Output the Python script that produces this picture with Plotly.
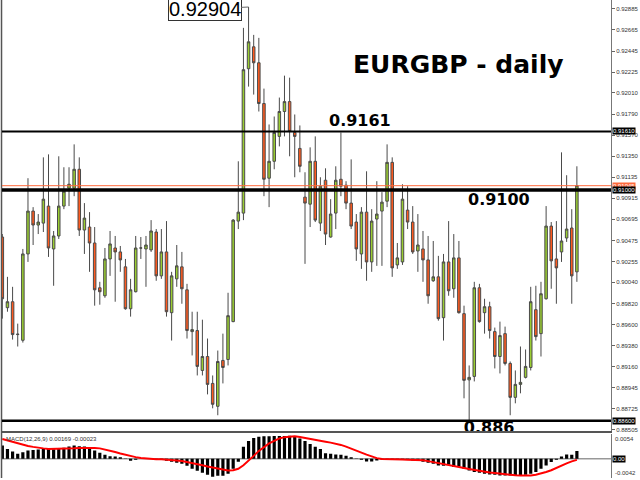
import plotly.graph_objects as go

bar_index = list(range(113))

opens = [
    0.90511, 0.89776, 0.89838, 0.89496, 0.89437, 0.90335, 0.90781, 0.90636, 0.90656, 0.90833,
    0.90387, 0.90522, 0.90833, 0.91019, 0.91019, 0.91216, 0.90584, 0.90615, 0.90449, 0.89983,
    0.89900, 0.90283, 0.90397, 0.90356, 0.90201, 0.89765, 0.89942, 0.90397, 0.90387, 0.90377,
    0.90563, 0.90107, 0.90356, 0.89724, 0.90076, 0.90201, 0.89962, 0.89527, 0.89538, 0.89123,
    0.89268, 0.88988, 0.88750, 0.89227, 0.89237, 0.89631, 0.90677, 0.90760, 0.92262, 0.92490,
    0.92324, 0.91900, 0.91123, 0.91299, 0.91558, 0.91817, 0.91920, 0.91599, 0.91433, 0.90926,
    0.90853, 0.91299, 0.90656, 0.91102, 0.90511, 0.90760, 0.91112, 0.91050, 0.90864, 0.90667,
    0.90335, 0.90770, 0.90252, 0.90698, 0.90781, 0.90884, 0.91288, 0.90221, 0.90252, 0.90791,
    0.90667, 0.90366, 0.90387, 0.90273, 0.90056, 0.90097, 0.89672, 0.90252, 0.89973, 0.90294,
    0.89714, 0.89025, 0.89061, 0.89983, 0.89724, 0.89786, 0.89527, 0.89268, 0.89506, 0.89196,
    0.88843, 0.88978, 0.89051, 0.89154, 0.89755, 0.89506, 0.89869, 0.90625, 0.90283, 0.90356,
    0.90501, 0.90605, 0.90149]

highs = [
    0.90542, 0.90097, 0.89993, 0.89610, 0.90387, 0.91123, 0.90822, 0.90750, 0.91340, 0.91371,
    0.90574, 0.91351, 0.91237, 0.91237, 0.91475, 0.91340, 0.90864, 0.90770, 0.90615, 0.90045,
    0.90397, 0.90574, 0.90522, 0.90418, 0.90283, 0.90076, 0.90522, 0.90511, 0.90522, 0.90687,
    0.90594, 0.90594, 0.90677, 0.90149, 0.90428, 0.90356, 0.90024, 0.89734, 0.89734, 0.89651,
    0.89455, 0.89071, 0.89330, 0.89506, 0.89931, 0.90698, 0.91299, 0.92687, 0.92904, 0.92614,
    0.92583, 0.92055, 0.91682, 0.91765, 0.91962, 0.92190, 0.92169, 0.91786, 0.91672, 0.91185,
    0.91444, 0.91558, 0.91133, 0.91226, 0.90905, 0.91247, 0.91599, 0.91092, 0.91319, 0.90750,
    0.90822, 0.91195, 0.90801, 0.91092, 0.90978, 0.91475, 0.91340, 0.90449, 0.91060, 0.91040,
    0.90833, 0.90750, 0.90574, 0.90522, 0.90470, 0.90315, 0.90335, 0.90677, 0.90542, 0.90470,
    0.89797, 0.89175, 0.90045, 0.90024, 0.89869, 0.89838, 0.89569, 0.89631, 0.89579, 0.89216,
    0.89123, 0.89372, 0.89341, 0.89993, 0.90004, 0.90045, 0.90833, 0.90667, 0.90677, 0.91392,
    0.91154, 0.90801, 0.91247]

lows = [
    0.89662, 0.89734, 0.89444, 0.89372, 0.89413, 0.90252, 0.90428, 0.90542, 0.90563, 0.90304,
    0.90004, 0.90491, 0.90801, 0.90833, 0.90936, 0.90522, 0.90335, 0.90149, 0.89797, 0.89807,
    0.89879, 0.90107, 0.89838, 0.90149, 0.89755, 0.89683, 0.89935, 0.90283, 0.89993, 0.90356,
    0.90056, 0.90076, 0.89683, 0.89434, 0.89993, 0.89817, 0.89455, 0.89279, 0.89071, 0.89071,
    0.88874, 0.88729, 0.88657, 0.88988, 0.89175, 0.89625, 0.90594, 0.90687, 0.92076, 0.91993,
    0.91817, 0.90936, 0.90822, 0.91216, 0.91454, 0.91558, 0.91351, 0.91133, 0.91185, 0.90232,
    0.90615, 0.90667, 0.90574, 0.90428, 0.90505, 0.90594, 0.90936, 0.90801, 0.90594, 0.90263,
    0.90180, 0.90056, 0.90149, 0.90211, 0.90211, 0.90822, 0.90097, 0.90180, 0.90221, 0.90594,
    0.90335, 0.90149, 0.90045, 0.89817, 0.90045, 0.89641, 0.89434, 0.89900, 0.89879, 0.89714,
    0.88833, 0.88600, 0.89009, 0.89620, 0.89506, 0.89455, 0.89144, 0.89092, 0.89175, 0.88657,
    0.88781, 0.88885, 0.89040, 0.89123, 0.89434, 0.89268, 0.89860, 0.89973, 0.89817, 0.90252,
    0.90460, 0.89817, 0.90045]

closes = [
    0.89869, 0.89838, 0.89496, 0.89500, 0.90335, 0.90781, 0.90636, 0.90667, 0.90905, 0.90397,
    0.90522, 0.90833, 0.90988, 0.91060, 0.91216, 0.90584, 0.90708, 0.90449, 0.89962, 0.89942,
    0.90283, 0.90439, 0.90356, 0.90273, 0.89765, 0.89962, 0.90397, 0.90397, 0.90428, 0.90574,
    0.90107, 0.90356, 0.89734, 0.90107, 0.90211, 0.89973, 0.89538, 0.89548, 0.89165, 0.89268,
    0.88978, 0.88771, 0.89216, 0.89154, 0.89693, 0.90687, 0.90770, 0.92252, 0.92542, 0.92324,
    0.91900, 0.91112, 0.91299, 0.91599, 0.91817, 0.91920, 0.91610, 0.91558, 0.91247, 0.90864,
    0.91299, 0.90687, 0.91040, 0.90542, 0.90750, 0.91102, 0.91040, 0.90864, 0.90625, 0.90387,
    0.90770, 0.90252, 0.90677, 0.90750, 0.90874, 0.91288, 0.90190, 0.90294, 0.90905, 0.90667,
    0.90356, 0.90428, 0.90273, 0.89900, 0.90097, 0.89662, 0.90252, 0.89952, 0.90294, 0.89724,
    0.89020, 0.89051, 0.89983, 0.89631, 0.89786, 0.89538, 0.89268, 0.89486, 0.89196, 0.88843,
    0.88978, 0.88999, 0.89165, 0.89838, 0.89475, 0.89921, 0.90625, 0.90263, 0.90190, 0.90470,
    0.90594, 0.90107, 0.91045]

macd_main = [
    0.00290, 0.00218, 0.00159, 0.00109, 0.00146, 0.00181, 0.00196, 0.00203, 0.00218, 0.00218,
    0.00211, 0.00225, 0.00240, 0.00268, 0.00290, 0.00277, 0.00268, 0.00240, 0.00181, 0.00131,
    0.00087, 0.00059, 0.00050, 0.00037, 0.00007, -0.00044, -0.00022, 0.00002, -0.00002, 0.00007,
    -0.00003, -0.00011, -0.00044, -0.00065, -0.00087, -0.00109, -0.00153, -0.00218, -0.00262, -0.00305,
    -0.00349, -0.00392, -0.00371, -0.00371, -0.00327, -0.00218, -0.00065, 0.00262, 0.00392, 0.00458,
    0.00486, 0.00495, 0.00495, 0.00501, 0.00501, 0.00501, 0.00508, 0.00486, 0.00443, 0.00392,
    0.00327, 0.00262, 0.00218, 0.00124, 0.00109, 0.00094, 0.00087, 0.00065, 0.00037, 0.00007,
    -0.00022, -0.00059, -0.00059, -0.00037, -0.00015, -0.00007, -0.00015, -0.00022, -0.00028, -0.00022,
    -0.00037, -0.00050, -0.00065, -0.00087, -0.00109, -0.00146, -0.00153, -0.00131, -0.00181, -0.00174,
    -0.00218, -0.00255, -0.00290, -0.00305, -0.00327, -0.00342, -0.00349, -0.00364, -0.00364, -0.00364,
    -0.00364, -0.00364, -0.00349, -0.00327, -0.00290, -0.00218, -0.00146, -0.00072, -0.00022, 0.00050,
    0.00094, 0.00087, 0.00169]

macd_signal = [
    0.00436, 0.00403, 0.00371, 0.00338, 0.00305, 0.00283, 0.00262, 0.00240, 0.00229, 0.00218,
    0.00218, 0.00218, 0.00218, 0.00222, 0.00229, 0.00235, 0.00240, 0.00240, 0.00235, 0.00229,
    0.00207, 0.00174, 0.00148, 0.00116, 0.00087, 0.00059, 0.00037, 0.00017, 0.00004, 0.00000,
    -0.00007, -0.00011, -0.00015, -0.00026, -0.00039, -0.00050, -0.00070, -0.00092, -0.00116, -0.00142,
    -0.00168, -0.00192, -0.00214, -0.00235, -0.00255, -0.00251, -0.00218, -0.00142, -0.00044, 0.00065,
    0.00174, 0.00262, 0.00338, 0.00392, 0.00447, 0.00475, 0.00491, 0.00495, 0.00480, 0.00458,
    0.00432, 0.00403, 0.00392, 0.00375, 0.00355, 0.00334, 0.00305, 0.00268, 0.00229, 0.00185,
    0.00137, 0.00092, 0.00050, 0.00015, -0.00004, -0.00011, -0.00013, -0.00015, -0.00017, -0.00020,
    -0.00020, -0.00022, -0.00033, -0.00050, -0.00070, -0.00087, -0.00109, -0.00131, -0.00157, -0.00181,
    -0.00203, -0.00225, -0.00246, -0.00268, -0.00283, -0.00299, -0.00312, -0.00327, -0.00338, -0.00349,
    -0.00360, -0.00364, -0.00366, -0.00364, -0.00349, -0.00323, -0.00290, -0.00251, -0.00196, -0.00153,
    -0.00098, -0.00055, -0.00023]

price_ticks = [0.92885, 0.92665, 0.92445, 0.92225, 0.92010, 0.91790, 0.91570, 0.91350,
               0.91135, 0.90915, 0.90695, 0.90475, 0.90255, 0.90040, 0.89820, 0.89600,
               0.89380, 0.89160, 0.88945, 0.88725, 0.88505]
macd_ticks = [0.0054, 0.0, -0.0042]

level_strong = 0.9100
level_upper = 0.9161
level_lower = 0.8860
bid_price = closes[-1]

title_text = "EURGBP - daily"

fig = go.Figure()

fig.add_trace(go.Candlestick(
    x=bar_index, open=opens, high=highs, low=lows, close=closes,
    increasing=dict(fillcolor="#9ACD32", line=dict(color="#4a4a4a", width=1)),
    decreasing=dict(fillcolor="#FF5A1F", line=dict(color="#4a4a4a", width=1)),
    whiskerwidth=0, xaxis="x", yaxis="y", showlegend=False, hoverinfo="skip"))

fig.add_trace(go.Bar(
    x=bar_index, y=macd_main, marker=dict(color="black", line=dict(width=0)),
    width=0.62, xaxis="x2", yaxis="y2", showlegend=False, hoverinfo="skip"))

fig.add_trace(go.Scatter(
    x=bar_index, y=macd_signal, mode="lines", line=dict(color="#FF0000", width=2),
    xaxis="x2", yaxis="y2", showlegend=False, hoverinfo="skip"))

# clipped label at the bottom of the price window
fig.add_trace(go.Scatter(
    x=[94.9], y=[0.88512], mode="text", text=["<b>0.886</b>"],
    textfont=dict(family="DejaVu Sans", size=16, color="black"),
    cliponaxis=True, xaxis="x", yaxis="y", showlegend=False, hoverinfo="skip"))

xr = [-0.064, 118.65]
y_top_px = 433.0
main_dom_bottom = (480 - y_top_px) / 480
macd_dom_top = (480 - 436) / 480

fig.update_layout(
    width=640, height=480,
    margin=dict(l=2, r=29, t=0, b=0),
    paper_bgcolor="white", plot_bgcolor="white",
    showlegend=False,
    xaxis=dict(domain=[0, 1], range=xr, showticklabels=False, showgrid=False,
               zeroline=False, rangeslider=dict(visible=False), anchor="y",
               showline=True, linecolor="#555555", linewidth=2),
    xaxis2=dict(domain=[0, 1], range=xr, showticklabels=False, showgrid=False,
                zeroline=False, anchor="y2", matches="x"),
    yaxis=dict(domain=[main_dom_bottom, 1], range=[0.88491, 0.92977], side="right",
               tickvals=price_ticks, ticktext=[f"{v:.5f}" for v in price_ticks],
               ticks="outside", ticklen=3, tickcolor="#666666",
               tickfont=dict(family="Liberation Sans", size=6, color="#333333"),
               showgrid=False, zeroline=False, showline=True, linecolor="#777777",
               linewidth=1, anchor="x"),
    yaxis2=dict(domain=[0, macd_dom_top], range=[-0.0042, 0.0054], side="right",
                showticklabels=False, ticks="", showgrid=False, zeroline=False,
                showline=True, linecolor="#777777", linewidth=1, anchor="x2"),
)

shapes = [
    dict(type="line", xref="paper", yref="paper", x0=-0.0008, x1=-0.0008, y0=0, y1=1,
         line=dict(color="#555555", width=1.5)),
    dict(type="line", xref="paper", yref="y2", x0=0, x1=1, y0=0, y1=0,
         line=dict(color="#666666", width=1), layer="below"),
    dict(type="line", xref="paper", yref="y", x0=0, x1=1, y0=bid_price, y1=bid_price,
         line=dict(color="#FF6A3D", width=1), layer="above"),
    dict(type="line", xref="paper", yref="y", x0=0, x1=1, y0=level_upper, y1=level_upper,
         line=dict(color="black", width=2), layer="above"),
    dict(type="line", xref="paper", yref="y", x0=0, x1=1, y0=level_strong, y1=level_strong,
         line=dict(color="black", width=3.5), layer="above"),
    dict(type="line", xref="paper", yref="y", x0=0, x1=1, y0=level_lower, y1=level_lower,
         line=dict(color="black", width=2.5), layer="above"),
]
fig.update_layout(shapes=shapes)

small = dict(family="Liberation Sans", size=6, color="white")
annotations = [
    dict(x=(458 - 2) / 609, y=(480 - 65) / 480, xref="paper", yref="paper",
         text=f"<b>{title_text}</b>", showarrow=False,
         font=dict(family="DejaVu Sans", size=25, color="black"),
         xanchor="center", yanchor="middle"),
    dict(x=(360 - 2) / 609, y=(480 - 121) / 480, xref="paper", yref="paper",
         text=f"<b>{level_upper:.4f}</b>", showarrow=False,
         font=dict(family="DejaVu Sans", size=16, color="black"),
         xanchor="center", yanchor="middle"),
    dict(x=(499 - 2) / 609, y=(480 - 200.5) / 480, xref="paper", yref="paper",
         text=f"<b>{level_strong:.4f}</b>", showarrow=False,
         font=dict(family="DejaVu Sans", size=16, color="black"),
         xanchor="center", yanchor="middle"),
    dict(x=48, y=max(highs), xref="x", yref="y", text=f"{max(highs):.5f}",
         showarrow=True, arrowhead=0, arrowwidth=1, arrowcolor="#666666",
         ax=-44, ay=2, font=dict(family="Liberation Sans", size=20, color="black"),
         bordercolor="#333333", borderwidth=1, borderpad=0, bgcolor="white"),
    dict(x=1, y=bid_price, xref="paper", yref="y", text=f"{bid_price:.5f}",
         showarrow=False, xanchor="left", yanchor="middle", bgcolor="#FF6A3D",
         font=small, borderpad=0, xshift=1),
    dict(x=1, y=level_upper, xref="paper", yref="y", text=f"{level_upper:.5f}",
         showarrow=False, xanchor="left", yanchor="middle", bgcolor="black",
         font=small, borderpad=0, xshift=1),
    dict(x=1, y=level_strong, xref="paper", yref="y", text=f"{level_strong:.5f}",
         showarrow=False, xanchor="left", yanchor="middle", bgcolor="black",
         font=small, borderpad=0, xshift=1),
    dict(x=1, y=level_lower, xref="paper", yref="y", text=f"{level_lower:.5f}",
         showarrow=False, xanchor="left", yanchor="middle", bgcolor="black",
         font=small, borderpad=0, xshift=1),
    dict(x=0.004, y=macd_ticks[0], xref="paper", yref="y2",
         text=f"MACD(12,26,9) {macd_main[-1]:.5f} {macd_signal[-1]:.5f}",
         showarrow=False, xanchor="left", yanchor="top",
         font=dict(family="Liberation Sans", size=6, color="#333333")),
    dict(x=1, y=macd_ticks[0], xref="paper", yref="y2", text=f"{macd_ticks[0]:.4f}",
         showarrow=False, xanchor="left", yanchor="top", xshift=2,
         font=dict(family="Liberation Sans", size=6, color="#333333")),
    dict(x=1, y=macd_ticks[1], xref="paper", yref="y2", text=f"{macd_ticks[1]:.2f}",
         showarrow=False, xanchor="left", yanchor="middle", xshift=1,
         bgcolor="black", font=small, borderpad=0),
    dict(x=1, y=macd_ticks[2], xref="paper", yref="y2", text=f"{macd_ticks[2]:.4f}",
         showarrow=False, xanchor="left", yanchor="bottom", xshift=2,
         font=dict(family="Liberation Sans", size=6, color="#333333")),
]
fig.update_layout(annotations=annotations)

fig.write_html(
    "out.html",
    config={"displayModeBar": False, "staticPlot": True},
    post_script="document.body.style.margin='0';document.body.style.padding='0';"
                "document.documentElement.style.overflow='hidden';")
